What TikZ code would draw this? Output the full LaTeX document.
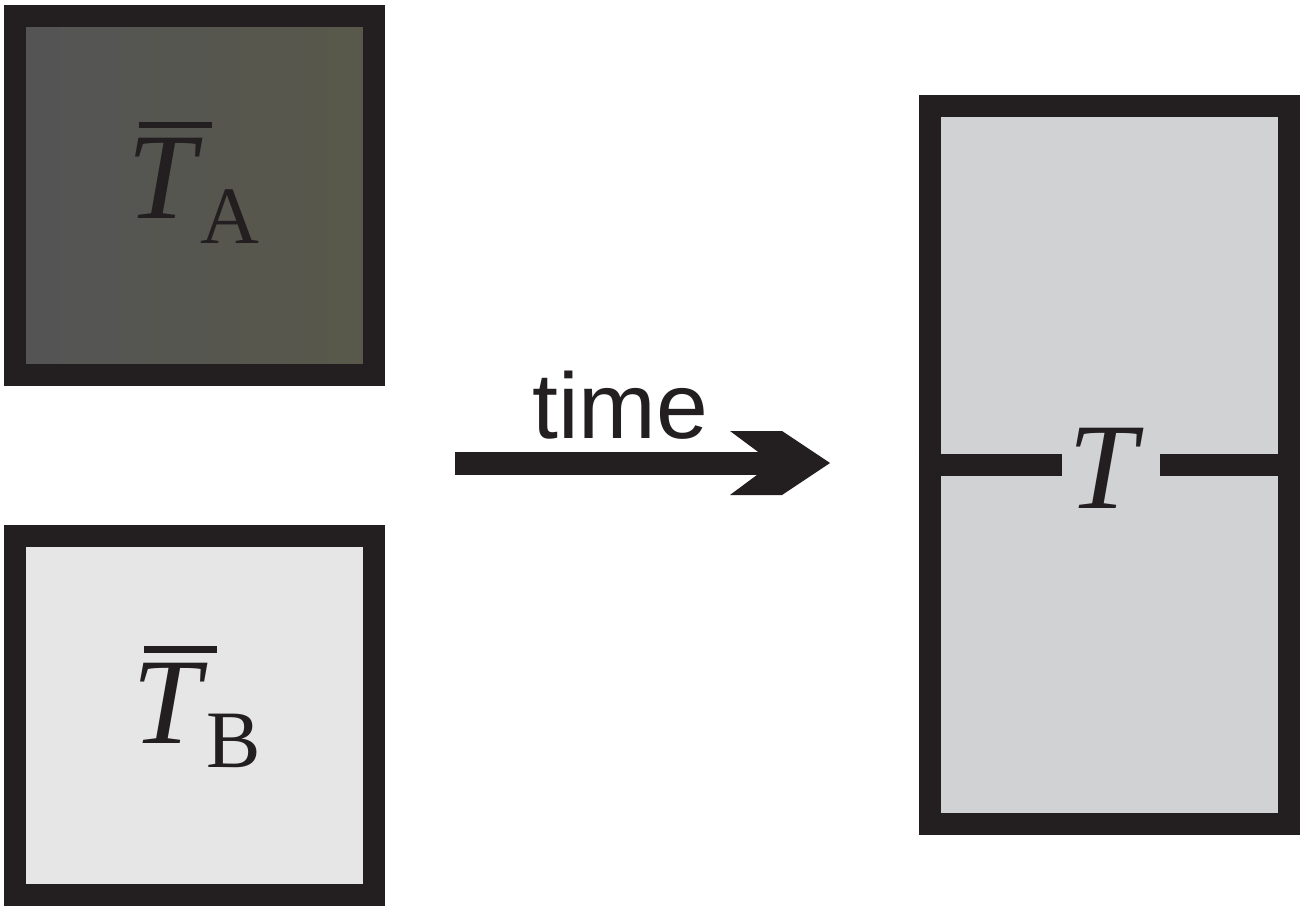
\documentclass[tikz,border=0pt]{standalone}
\usepackage{fontspec}
\newfontfamily\timefont{Liberation Sans}
\newfontfamily\labelfont{Liberation Serif}
\usepackage{tikz}
\usetikzlibrary{arrows.meta, positioning}

\definecolor{edgeblack}{RGB}{35,31,32}
\definecolor{hotleft}{RGB}{84,84,86}
\definecolor{hotright}{RGB}{88,88,74}
\definecolor{coldfill}{RGB}{230,230,230}
\definecolor{mixfill}{RGB}{209,210,212}

% mean temperature with a bar and a subscript
\newcommand{\meanT}[1]{\makebox[0pt][l]{\hspace{1.1mm}\rule[9.05mm]{7.3mm}{0.68mm}}\textit{T}\hspace{-0.2mm}\raisebox{-2.45mm}{\fontsize{23.2}{23.2}\selectfont #1}}

\begin{document}
\begin{tikzpicture}[x=0.1mm,y=-0.1mm,
            tank/.style={draw=edgeblack,line width=2.2mm,minimum size=35.9mm,inner sep=0pt},
            temp/.style={inner sep=0pt,text=edgeblack,font=\labelfont\fontsize{34.9}{34.9}\selectfont}]
            \useasboundingbox (0,0) rectangle (1307,909);
            
            % Two separate bodies
            \node[tank,left color=hotleft,right color=hotright] (hot) at (194,195.5) {};
            \node[tank,fill=coldfill,below=13.9mm of hot] (cold) {};
            \node[temp,anchor=base west] (hotlabel) at (126.8,219) {\meanT{A}};
            \node[temp,anchor=base west] (coldlabel) at (132.1,743.3) {\meanT{B}};
            
            % Time arrow
            \coordinate (tstart) at (455,463);
            \coordinate (tend) at (830,463);
            \draw[line width=2.3mm,edgeblack] (tstart) -- ([xshift=-5mm]tend);
            \fill[edgeblack] (tend) -- ++(-48,-32) -- ++(-52,0) -- ++(43,32) -- ++(-43,32) -- ++(52,0) -- cycle;
            \node[anchor=base west,inner sep=0pt,font=\timefont\fontsize{26.5}{26.5}\selectfont,text=edgeblack] (time) at (531.5,438.3) {time};
            
            % Bodies in contact
            \node[tank,fill=mixfill,minimum width=35.95mm,minimum height=71.7mm] (mix) at (1109.25,465) {};
            \node[temp,anchor=base,minimum width=9.66mm] (eq) at (1111,508.3) {\kern-0.5mm\textit{T}\kern0.5mm};
            \draw[edgeblack,line width=2.2mm] (mix.west) -- (mix.west -| eq.west);
            \draw[edgeblack,line width=2.2mm] (mix.east |- mix.west) -- (mix.west -| eq.east);
        \end{tikzpicture}
\end{document}
